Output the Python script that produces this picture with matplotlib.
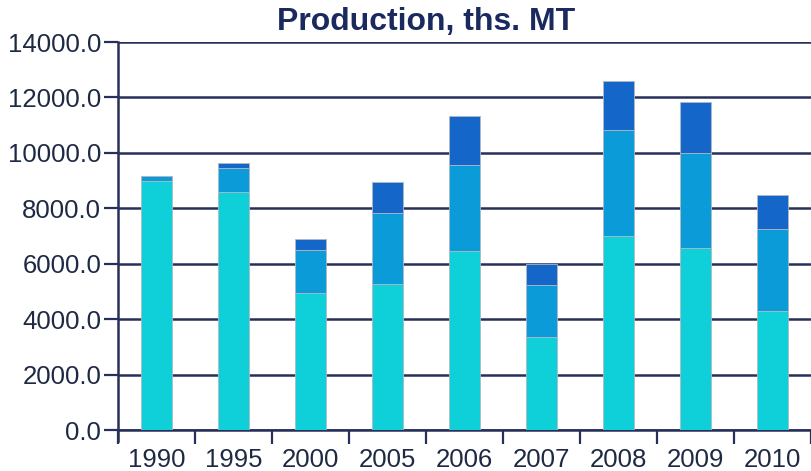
import numpy as np
import matplotlib.pyplot as plt

# Data (ths. MT)
years = ['1990', '1995', '2000', '2005', '2006', '2007', '2008', '2009', '2010']
part1 = [9000, 8580, 4960, 5260, 6470, 3370, 7000, 6560, 4300]
part2 = [160, 890, 1540, 2560, 3100, 1860, 3830, 3430, 2960]
part3 = [0, 160, 380, 1140, 1770, 760, 1780, 1840, 1220]
yticks = [0, 2000, 4000, 6000, 8000, 10000, 12000, 14000]

navy = '#27305a'
colors = ['#0fcfd8', '#0a9bd8', '#1466c8']

plt.rcParams['font.family'] = ['Liberation Sans', 'DejaVu Sans']

fig = plt.figure(figsize=(8.11, 4.71), dpi=100)
ax = fig.add_axes([118 / 811, 1 - 430 / 471, 1 - 118 / 811, (430 - 42) / 471])

x = np.arange(len(years))
p1 = np.array(part1)
p2 = np.array(part2)
p3 = np.array(part3)
ax.bar(x, p1, width=0.4, color=colors[0], edgecolor='#b0b8c4', linewidth=0.6, zorder=3)
ax.bar(x, p2, width=0.4, bottom=p1, color=colors[1], edgecolor='#b0b8c4', linewidth=0.6, zorder=3)
ax.bar(x, p3, width=0.4, bottom=p1 + p2, color=colors[2], edgecolor='#b0b8c4', linewidth=0.6, zorder=3)

ax.set_xlim(-0.5, len(years) - 0.5)
ax.set_ylim(0, 14000)
ax.set_yticks(yticks)
ax.set_yticklabels(['%.1f' % v for v in yticks], fontsize=18.5, color='#1e2a44')
ax.yaxis.grid(True, color=navy, linewidth=1.8, zorder=0)

# category labels centered, tick marks at the boundaries
ax.set_xticks(np.arange(len(years) + 1) - 0.5)
ax.set_xticklabels([])
ax.set_xticks(x, minor=True)
ax.set_xticklabels(years, minor=True, fontsize=18.5, color='#1e2a44')
ax.tick_params(axis='x', which='minor', length=0, pad=13)
ax.tick_params(axis='x', which='major', length=10, width=1.6, color=navy, direction='out')
ax.tick_params(axis='y', length=10, width=1.6, color=navy, pad=2)

for s in ['top', 'right']:
    ax.spines[s].set_visible(False)
for s in ['left', 'bottom']:
    ax.spines[s].set_color(navy)
    ax.spines[s].set_linewidth(1.8)
ax.spines['left'].set_bounds(-400, 14000)

fig.text(426 / 811, 1 - 22 / 471, 'Production, ths. MT', ha='center', va='center',
         fontsize=23, fontweight='bold', color='#1b2a5e')

fig.savefig('out.png', dpi=100)
